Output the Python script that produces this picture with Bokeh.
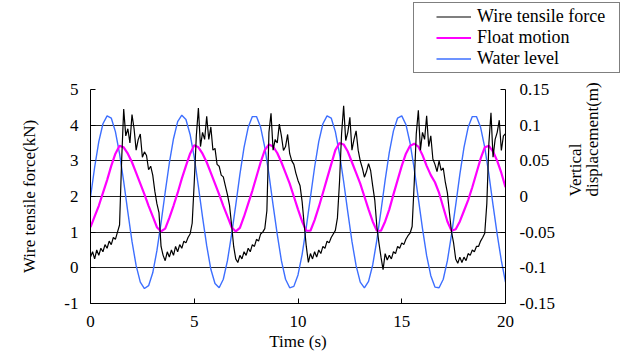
import math
from bokeh.plotting import figure
from bokeh.layouts import column
from bokeh.models import (Range1d, LinearAxis, FixedTicker, Legend, LegendItem,
                          CustomJSTickFormatter)
from bokeh.embed import file_html
from bokeh.resources import INLINE

# ---------------- data ----------------
# Wire tensile force (kN), sampled every 0.1 s from 0 to 20 s
force_time = [round(i * 0.1, 1) for i in range(201)]
force_kN = [
    0.30, 0.45, 0.25, 0.50, 0.35, 0.55, 0.45, 0.65, 0.55, 0.75,
    0.65, 0.85, 0.80, 1.00, 1.20, 3.00, 4.45, 3.70, 3.90, 3.50,
    4.30, 3.90, 3.30, 3.60, 3.75, 3.10, 3.25, 3.15, 2.75, 2.85,
    2.60, 2.15, 1.80, 1.55, 0.60, 0.35, 0.20, 0.45, 0.30, 0.50,
    0.35, 0.60, 0.45, 0.65, 0.55, 0.75, 0.70, 0.85, 0.95, 1.25,
    2.40, 3.70, 4.48, 3.40, 3.80, 3.60, 4.25, 3.60, 3.95, 3.30,
    3.35, 2.90, 2.85, 2.60, 2.55, 2.30, 2.05, 1.75, 1.20, 0.60,
    0.25, 0.15, 0.35, 0.25, 0.45, 0.35, 0.55, 0.45, 0.65, 0.60,
    0.80, 0.75, 0.95, 1.00, 1.10, 1.60, 3.80, 4.33, 3.30, 3.60,
    3.50, 4.03, 3.70, 3.29, 3.40, 3.74, 3.20, 3.00, 2.90, 2.65,
    2.45, 2.30, 1.85, 1.20, 0.60, 0.15, 0.40, 0.25, 0.45, 0.30,
    0.50, 0.40, 0.60, 0.55, 0.75, 0.70, 0.85, 0.95, 1.05, 1.40,
    2.40, 3.76, 4.54, 3.57, 3.80, 4.22, 3.30, 3.60, 3.84, 3.30,
    3.00, 2.80, 2.54, 2.70, 2.92, 2.73, 2.30, 1.90, 1.16, 0.70,
    0.30, -0.05, 0.40, 0.22, 0.35, 0.25, 0.45, 0.40, 0.60, 0.55,
    0.70, 0.65, 0.80, 0.90, 0.97, 1.16, 2.36, 3.76, 4.42, 3.30,
    3.80, 3.60, 4.26, 3.40, 3.70, 3.05, 2.90, 2.70, 3.00, 2.73,
    2.80, 2.40, 2.10, 1.53, 1.00, 0.69, 0.25, 0.13, 0.30, 0.15,
    0.30, 0.20, 0.40, 0.35, 0.50, 0.45, 0.60, 0.60, 0.75, 0.85,
    0.97, 1.80, 3.50, 4.35, 3.10, 3.60, 3.80, 4.14, 3.29, 3.70,
    3.76,
]

# Float motion and water level (m), sampled every 0.2 s from 0 to 20 s
disp_time = [round(i * 0.2, 1) for i in range(101)]
float_m = [
    -0.043, -0.028, -0.013, 0.005, 0.023, 0.043, 0.060, 0.071, 0.069, 0.060,
    0.048, 0.033, 0.018, 0.003, -0.013, -0.028, -0.043, -0.049, -0.045, -0.030,
    -0.013, 0.005, 0.025, 0.043, 0.060, 0.072, 0.069, 0.060, 0.048, 0.033,
    0.018, 0.003, -0.013, -0.028, -0.043, -0.049, -0.044, -0.028, -0.010, 0.008,
    0.028, 0.048, 0.065, 0.073, 0.070, 0.061, 0.048, 0.033, 0.018, 0.000,
    -0.018, -0.035, -0.048, -0.048, -0.033, -0.015, 0.005, 0.025, 0.045, 0.065,
    0.075, 0.073, 0.063, 0.048, 0.033, 0.018, 0.000, -0.018, -0.035, -0.048,
    -0.048, -0.035, -0.018, 0.003, 0.023, 0.043, 0.060, 0.071, 0.074, 0.070,
    0.058, 0.043, 0.030, 0.020, 0.005, -0.015, -0.035, -0.048, -0.046, -0.035,
    -0.020, -0.005, 0.013, 0.033, 0.053, 0.069, 0.071, 0.063, 0.050, 0.033,
    0.013,
]
water_m = [
    -0.001, 0.041, 0.077, 0.102, 0.113, 0.110, 0.091, 0.060, 0.021, -0.022,
    -0.063, -0.097, -0.120, -0.129, -0.125, -0.107, -0.076, -0.037, 0.006, 0.047,
    0.081, 0.105, 0.114, 0.108, 0.087, 0.055, 0.014, -0.029, -0.069, -0.102,
    -0.122, -0.128, -0.116, -0.090, -0.053, -0.012, 0.031, 0.069, 0.097, 0.112,
    0.112, 0.097, 0.069, 0.031, -0.012, -0.053, -0.090, -0.116, -0.128, -0.126,
    -0.110, -0.081, -0.043, -0.001, 0.041, 0.077, 0.102, 0.113, 0.110, 0.091,
    0.060, 0.021, -0.022, -0.063, -0.097, -0.120, -0.128, -0.119, -0.096, -0.061,
    -0.020, 0.023, 0.062, 0.092, 0.110, 0.113, 0.101, 0.075, 0.039, -0.003,
    -0.045, -0.083, -0.111, -0.127, -0.128, -0.116, -0.090, -0.053, -0.012, 0.031,
    0.069, 0.097, 0.112, 0.112, 0.097, 0.069, 0.031, -0.012, -0.053, -0.090,
    -0.120,
]

x_ticks = [0, 5, 10, 15, 20]
left_ticks = [-1, 0, 1, 2, 3, 4, 5]
right_ticks = [-0.15, -0.1, -0.05, 0, 0.05, 0.1, 0.15]

series_names = ["Wire tensile force", "Float motion", "Water level"]
series_colors = ["black", "#FF00FF", "#3D6FFF"]
series_widths = [1.2, 2.2, 1.4]
right_title = "Vertical\ndisplacement(m)"

FONT = "Liberation Serif"

# ---------------- legend strip (top) ----------------
top = figure(width=624, height=74, output_backend="svg", toolbar_location=None,
             x_range=Range1d(0, 20), y_range=Range1d(100, 101),
             x_axis_type=None, y_axis_type=None, min_border=0)
if "frame_align" in top.properties():
    top.frame_align = False
top.outline_line_color = None
top.background_fill_color = "white"
top.border_fill_color = "white"
top.grid.visible = False
lg_force = top.line(force_time, force_kN, line_color=series_colors[0], line_width=series_widths[0])
lg_float = top.line(disp_time, float_m, line_color=series_colors[1], line_width=series_widths[1])
lg_water = top.line(disp_time, water_m, line_color=series_colors[2], line_width=series_widths[2])

legend = Legend(items=[LegendItem(label=series_names[0], renderers=[lg_force]),
                       LegendItem(label=series_names[1], renderers=[lg_float]),
                       LegendItem(label=series_names[2], renderers=[lg_water])],
                location=(413, 1))
legend.label_text_font = FONT
legend.label_text_font_size = "18px"
legend.label_text_color = "black"
if "label_text_line_height" in legend.properties():
    legend.label_text_line_height = 1.0
legend.label_height = 19
legend.glyph_height = 19
legend.glyph_width = 35
legend.label_standoff = 6
legend.spacing = 0
legend.margin = 0
try:
    legend.padding = (22, 14, 3, 3)
except Exception:
    legend.padding = 3
legend.border_line_color = "black"
legend.border_line_width = 1
legend.background_fill_color = "white"
legend.background_fill_alpha = 1
top.add_layout(legend)

# ---------------- main chart ----------------
p = figure(width=624, height=279, output_backend="svg", toolbar_location=None,
           x_range=Range1d(0, 20), y_range=Range1d(-1, 5),
           min_border_left=90, min_border_right=119,
           min_border_top=15, min_border_bottom=50)
if "frame_align" in p.properties():
    p.frame_align = False
p.extra_y_ranges = {"disp": Range1d(-0.15, 0.15)}
p.outline_line_color = None
p.background_fill_color = "white"
p.border_fill_color = "white"

p.xgrid.visible = False
p.ygrid.ticker = FixedTicker(ticks=left_ticks)
p.ygrid.grid_line_color = "#222222"
p.ygrid.grid_line_width = 1

plain = CustomJSTickFormatter(code="return String(Math.round(tick*100)/100);")

def style_axis(ax, standoff, label_standoff):
    ax.axis_line_color = "black"
    ax.axis_line_width = 1
    ax.major_tick_in = 5
    ax.major_tick_out = 0
    ax.minor_tick_in = 0
    ax.minor_tick_out = 0
    ax.major_tick_line_color = "black"
    ax.major_label_text_font = FONT
    ax.major_label_text_font_size = "17px"
    ax.major_label_text_color = "black"
    ax.major_label_standoff = standoff
    ax.axis_label_text_font = FONT
    ax.axis_label_text_font_size = "17px"
    ax.axis_label_text_font_style = "normal"
    ax.axis_label_text_color = "black"
    ax.axis_label_standoff = label_standoff

xa = p.xaxis[0]
xa.ticker = FixedTicker(ticks=x_ticks)
xa.formatter = plain
xa.axis_label = "Time (s)"
style_axis(xa, 12, 2)

ya = p.yaxis[0]
ya.ticker = FixedTicker(ticks=left_ticks)
ya.formatter = plain
ya.axis_label = "Wire tensile force(kN)"
style_axis(ya, 12, 22)

ra = LinearAxis(y_range_name="disp")
ra.ticker = FixedTicker(ticks=right_ticks)
ra.formatter = CustomJSTickFormatter(code="return String(Math.round(tick*100)/100);")
ra.axis_label = right_title
style_axis(ra, 14, 26)
if "axis_label_orientation" in ra.properties():
    ra.axis_label_orientation = math.pi / 2
if "axis_label_text_line_height" in ra.properties():
    ra.axis_label_text_line_height = 0.9
p.add_layout(ra, "right")

p.line(disp_time, water_m, y_range_name="disp",
       line_color=series_colors[2], line_width=series_widths[2])
p.line(disp_time, float_m, y_range_name="disp",
       line_color=series_colors[1], line_width=series_widths[1])
p.line(force_time, force_kN, line_color=series_colors[0], line_width=series_widths[0])

layout = column(top, p, spacing=0)
open("out.html", "w").write(file_html(layout, INLINE))
